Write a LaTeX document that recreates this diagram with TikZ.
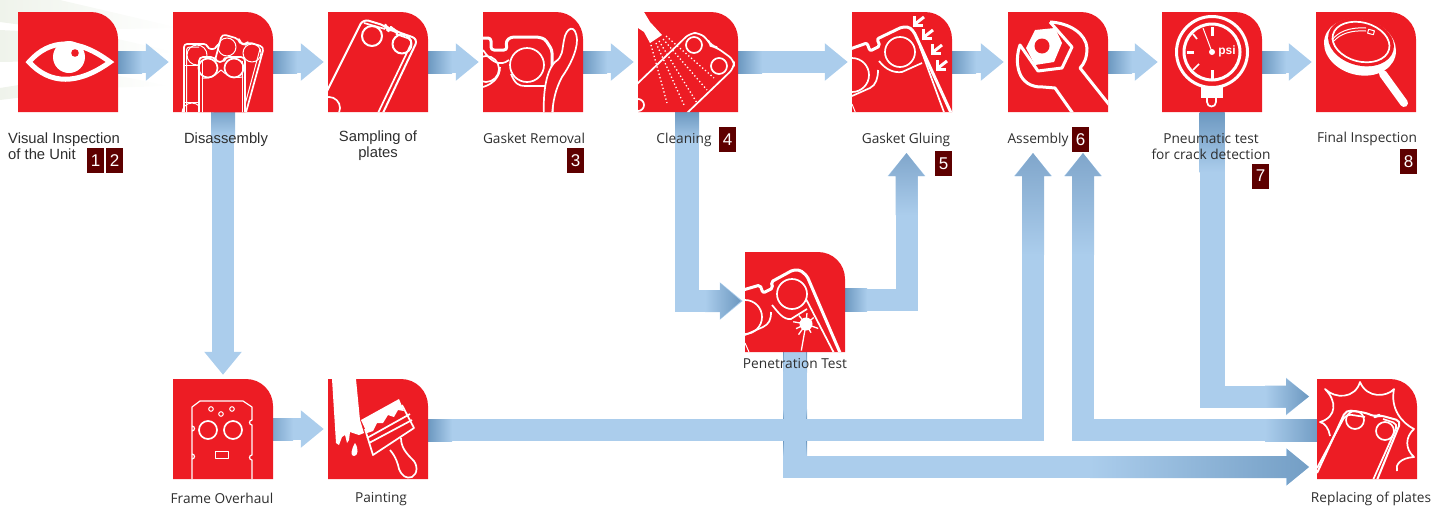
\documentclass[tikz,border=0pt]{standalone}
\usepackage{fontspec}
\setmainfont{Open Sans}
\newfontfamily\helvfont{Liberation Sans}
\usetikzlibrary{arrows.meta, calc}
\definecolor{Ctile}{HTML}{ED1C24}
\definecolor{Cbadge}{HTML}{5E0000}
\definecolor{Fl}{HTML}{ABCDEC}
\definecolor{Fd}{HTML}{6C98C0}
\definecolor{Fm}{HTML}{80A6CB}
\definecolor{Cstk}{HTML}{EFF3EB}
\tikzset{
  tile/.style    = {rectangle, minimum size=100pt, inner sep=0pt},
  tileout/.style = {insert path={(0,0) -- (73,0) .. controls (88,0) and (100,12) .. (100,27)
                     -- (100,100) -- (0,100) -- cycle}},
  lbl/.style     = {font=\fontsize{13.7}{16}\selectfont, text=black!82, inner sep=0pt, align=center},
  lblh/.style    = {lbl, font=\helvfont\fontsize{14.8}{16}\selectfont},
  badge/.style   = {fill=Cbadge, text=white, minimum width=17pt, minimum height=25pt, inner sep=0pt,
                    font=\helvfont\fontsize{17}{17}\selectfont},
  flow/.style    = {line width=22pt, Fl, -{Triangle[length=23pt,width=36pt]}, shorten >=4pt},
  flowup/.style  = {flow, shorten >=0pt},
  stem/.style    = {line width=24pt, Fl},
  ico/.style     = {draw=white, line width=1.7pt, line join=round},
  icoT/.style    = {draw=white, line width=3pt, line join=round},
  icoN/.style    = {draw=white, line width=1pt, line join=round},
  dots/.style    = {draw=white, line width=1.3pt, dash pattern=on 1.3pt off 2.4pt},
}
\begin{document}
\begin{tikzpicture}[x=1pt, y=-1pt]
\useasboundingbox (0,0) rectangle (1445,507);

%%──────────────────────────────────────────────────
%% Pale streaks behind the first tiles
%%──────────────────────────────────────────────────
\shade[left color=Cstk, right color=white] (0,0) -- (60,0) -- (180,28) -- (60,30) -- (0,22) -- cycle;
\shade[left color=Cstk, right color=white] (0,30) -- (100,35) -- (175,52) -- (100,60) -- (0,62) -- cycle;
\shade[left color=Cstk, right color=white] (0,88) -- (100,72) -- (170,86) -- (100,88) -- (0,100) -- cycle;

%%──────────────────────────────────────────────────
%% Tiles
%%──────────────────────────────────────────────────
\node[tile] (eye)   at (68,62)    {};
\node[tile] (parts) at (223,62)   {};
\node[tile] (samp)  at (378,62)   {};
\node[tile] (strip) at (533,62)   {};
\node[tile] (clean) at (688,62)   {};
\node[tile] (glue)  at (902,62)   {};
\node[tile] (asm)   at (1058,62)  {};
\node[tile] (press) at (1212,62)  {};
\node[tile] (final) at (1366,62)  {};
\node[tile] (pen)   at (795,302)  {};
\node[tile] (frame) at (223,429)  {};
\node[tile] (paint) at (378,429)  {};
\node[tile] (rep)   at (1367,429) {};

\coordinate (glueIn) at (906.5,153);
\coordinate (asmInA) at (1033,153);
\coordinate (asmInB) at (1083,153);
\coordinate (repInA) at (1309,396.5);
\coordinate (repInB) at (1309,467);

%%──────────────────────────────────────────────────
%% Connectors
%%──────────────────────────────────────────────────
\draw[flow] (eye.east)   -- (parts.west);
\draw[flow] (parts.east) -- (samp.west);
\draw[flow] (samp.east)  -- (strip.west);
\draw[flow] (strip.east) -- (clean.west);
\draw[flow] (clean.east) -- (glue.west);
\draw[flow] (glue.east)  -- (asm.west);
\draw[flow] (asm.east)   -- (press.west);
\draw[flow] (press.east) -- (final.west);
\draw[flow] (frame.east) -- (paint.west);
\draw[flow] (parts.south) -- (frame.north);

\draw[stem] (pen.south) -- ++(0,126);
\shade[top color=Fd, bottom color=Fl] (783,352) rectangle (807,372);
\shade[top color=Fl, bottom color=Fd] (783,409) rectangle (807,420);
\shade[top color=Fd, bottom color=Fl] (783,441) rectangle (807,456);
\draw[flowup] (pen.south) |- (repInB);

\draw[stem] ([xshift=-1pt]clean.south) -- ++(0,200);
\draw[flowup, shorten >=2pt] ([xshift=-1pt]clean.south) |- ([yshift=1pt]pen.west);
\draw[flowup] ([yshift=2.5pt]pen.east) -| (glueIn);
\draw[flowup] ([yshift=-1pt]paint.east) -| (asmInA);
\draw[flowup] ([yshift=-1pt]rep.west) -| (asmInB);
\draw[stem, line width=25pt] (press.south) -- ++(0,296);
\draw[flowup] (press.south) |- (repInA);

%% gradients at the tile ends
\foreach \xa in {118,273,428,583,738,952,1108,1262}
  \shade[left color=Fd, right color=Fl] (\xa,51) rectangle ++(24,22);
\shade[left color=Fd!70!Fl, right color=Fl] (273,418) rectangle ++(20,22);
\shade[left color=Fd, right color=Fl] (428,419) rectangle ++(24,22);
\shade[left color=Fd, right color=Fl] (845,288) rectangle ++(22,23);
\shade[top color=Fd!80!Fl, bottom color=Fl] (211,112) rectangle ++(24,24);
\shade[top color=Fd, bottom color=Fl] (675,112) rectangle ++(24,30);
\shade[top color=Fd, bottom color=Fl] (1199.5,112) rectangle ++(25,60);
\shade[left color=Fl, right color=Fd!90!Fl] (1265,419) rectangle (1317,441);

%% gradients at the arrow heads
\shade[left color=Fl, right color=Fd] (705,290) -- (720,290) -- (720,283) -- (741,301) -- (720,319) -- (720,312) -- (705,312) -- cycle;
\shade[left color=Fl, right color=Fd] (1265,385.5) -- (1286,385.5) -- (1286,378.5) -- (1309,396.5) -- (1286,414.5) -- (1286,407.5) -- (1265,407.5) -- cycle;
\shade[left color=Fl, right color=Fd!88!Fl] (1090,456) -- (1287,456) -- (1287,449) -- (1309,467) -- (1287,485) -- (1287,478) -- (1090,478) -- cycle;
\shade[bottom color=Fl, top color=Fm] (895.5,215) -- (895.5,176) -- (888.5,176) -- (906.5,153) -- (924.5,176) -- (917.5,176) -- (917.5,215) -- cycle;
\shade[bottom color=Fl, top color=Fm] (1022,255) -- (1022,176) -- (1015,176) -- (1033,153) -- (1051,176) -- (1044,176) -- (1044,255) -- cycle;
\shade[bottom color=Fl, top color=Fm] (1072,255) -- (1072,176) -- (1065,176) -- (1083,153) -- (1101,176) -- (1094,176) -- (1094,255) -- cycle;

%%──────────────────────────────────────────────────
%% Tile 1: eye
%%──────────────────────────────────────────────────
\begin{scope}[shift={(18,12)}]
  \fill[Ctile, tileout];
  \draw[icoT, line width=5pt, miter limit=10, line join=miter] (11,50)
    .. controls (32,26) and (60,26) .. (92,50) .. controls (60,73) and (32,73) .. cycle;
  \fill[white] (51,45) circle (16);
  \fill[Ctile] (57,41) circle (3.8);
\end{scope}

%%──────────────────────────────────────────────────
%% Tile 2: three plates
%%──────────────────────────────────────────────────
\begin{scope}[shift={(173,12)}]
  \fill[Ctile, tileout];
  \clip[tileout];
  \draw[ico, rounded corners=3pt] (11,100) -- (11,32) -- (34,32) -- (35,37) -- (43,37) -- (44,32) -- (55,32);
  \draw[icoN, rounded corners=3pt] (13.5,100) -- (13.5,35) -- (26,35);
  \draw[icoN] (24,43) circle (10);
  \draw[icoN] (19,101) circle (10);
  \draw[icoN] (11,53) -- (26,53) (11,90) -- (26,90);
  \draw[ico, fill=Ctile, rounded corners=4pt] (41,52) -- (49,22) -- (66,27) -- (67,31) -- (72,33) -- (75,30) -- (91,35) -- (72,104) -- (40,104) -- cycle;
  \draw[icoN] (87,37) -- (70,100);
  \draw[icoN] (54,35) circle (9);
  \draw[icoN] (79,41) circle (9);
  \draw[ico, fill=Ctile, rounded corners=4pt] (26,104) -- (26,45) -- (42,45) -- (43,50) -- (51,50) -- (52,45) -- (72,45) -- (72,104);
  \draw[ico] (35,56) circle (9.5);
  \draw[ico] (61,56) circle (9.5);
  \draw[icoN] (29,66) .. controls (40,67) and (43,62) .. (48,58) .. controls (53,62) and (56,67) .. (70,65);
  \draw[icoN] (29,49) -- (29,104) (69.5,49) -- (69.5,104);
\end{scope}

%%──────────────────────────────────────────────────
%% Tile 3: one plate
%%──────────────────────────────────────────────────
\begin{scope}[shift={(328,12)}]
  \fill[Ctile, tileout];
  \clip[tileout];
  \draw[ico, line width=2pt, rounded corners=6pt] (-3,83) -- (35,7) -- (58,14) -- (60,18) -- (65,17) -- (67,19) -- (90,27) -- (54,103);
  \draw[ico, rounded corners=5pt] (36,11) -- (57,17) (68,22) -- (85,28) -- (50,101);
  \draw[ico, line width=2pt] (44,24) circle (10);
  \draw[ico, line width=2pt] (74,32) circle (9.5);
  \draw[ico] (1,96) circle (11);
\end{scope}

%%──────────────────────────────────────────────────
%% Tile 4: gasket coming off
%%──────────────────────────────────────────────────
\begin{scope}[shift={(483,12)}]
  \fill[Ctile, tileout];
  \clip[tileout];
  \draw[icoT, rounded corners=3pt] (-2,26) -- (8,26) -- (8,38) -- (24,38) -- (23,29) -- (28,25) -- (55,25) -- (62,27) -- (69,38) -- (69,104);
  \draw[ico] (44,53) circle (17);
  \draw[ico] (3,57) circle (13);
  \draw[ico] (0,38) .. controls (8,50) and (17,55) .. (26,48);
  \draw[ico] (0,75) .. controls (10,72) and (17,65) .. (17,55);
  \draw[ico] (28,62) .. controls (32,72) and (36,74) .. (42,74) -- (62,74) -- (70,66);
  \draw[ico, fill=Ctile] (61,103) .. controls (60,85) and (62,60) .. (72,50) .. controls (80,45) and (79,38) .. (81,28) .. controls (83,15) and (93,11) .. (94,28) .. controls (94,40) and (86,55) .. (79,65) .. controls (72,78) and (70,90) .. (69,103);
\end{scope}

%%──────────────────────────────────────────────────
%% Tile 5: spray on a plate
%%──────────────────────────────────────────────────
\begin{scope}[shift={(638,12)}]
  \fill[Ctile, tileout];
  \clip[tileout];
  \fill[white] (6,0) -- (12,10) -- (24,23) -- (12,31) -- (6,20) -- (0,16) -- (0,0) -- cycle;
  \draw[ico, rounded corners=6pt] (-2,73) -- (52,21) -- (62,21) -- (70,28) -- (73,34) -- (78,35) -- (96,48) -- (96,56) -- (48,102);
  \draw[ico] (56,33) circle (8);
  \draw[ico] (81,54) circle (8);
  \draw[ico] (0,93) circle (6);
  \draw[dots] (13,33) -- (29,91);
  \draw[dots] (18,31) -- (46,93);
  \draw[dots] (21,29) -- (59,91);
  \draw[dots] (25,27) -- (69,78);
  \draw[dots] (28,24) -- (76,66);
\end{scope}

%%──────────────────────────────────────────────────
%% Tile 6: gluing, small arrows
%%──────────────────────────────────────────────────
\begin{scope}[shift={(852,12)}]
  \fill[Ctile, tileout];
  \clip[tileout];
  \draw[icoT, rounded corners=2pt] (-2,37) -- (15,31) -- (18,39) -- (28,34) -- (25,27) -- (50,15) -- (57,15) -- (62,20) -- (100,103);
  \draw[ico] (68,35) -- (93,103);
  \draw[ico] (48,40) circle (15);
  \draw[ico] (0,63) circle (17);
  \draw[ico] (27,49) .. controls (34,58) and (42,61) .. (50,60) -- (70,51);
  \draw[ico] (0,84) -- (18,76) .. controls (24,73) and (26,66) .. (26,58);
  \draw[icoN] (0,92) -- (4,102);
  \foreach \xa/\ya in {63/12, 72/25, 81/40, 86/56}{
    \draw[icoT, line join=miter] (\xa+9,\ya-7) -- (\xa,\ya);
    \draw[icoT, line join=miter] (\xa-1,\ya-8) -- (\xa-1,\ya+1) -- (\xa+8,\ya+1);
  }
\end{scope}

%%──────────────────────────────────────────────────
%% Tile 7: spanner and nut
%%──────────────────────────────────────────────────
\begin{scope}[shift={(1008,12)}]
  \fill[Ctile, tileout];
  \clip[tileout];
  \draw[icoT] (42,10) .. controls (62,11) and (78,22) .. (79,36) .. controls (79,46) and (76,52) .. (72,56) -- (103,95);
  \draw[icoT] (42,10) -- (64,35) -- (54,56) -- (30,59) -- (12,33) .. controls (6,50) and (9,76) .. (35,75) -- (47,76) -- (66,103);
  \fill[white] (18,36) -- (27,18) -- (47,16) -- (54,31) -- (46,50) -- (27,53) -- cycle;
  \fill[Ctile] (34,34) circle (7.5);
\end{scope}

%%──────────────────────────────────────────────────
%% Tile 8: gauge
%%──────────────────────────────────────────────────
\begin{scope}[shift={(1162,12)}]
  \fill[Ctile, tileout];
  \clip[tileout];
  \draw[icoT] (50,40) circle (35.5);
  \draw[icoT] (50,40) circle (28);
  \fill[white] (39,75) -- (61,75) -- (61,86) -- (39,86) -- cycle;
  \draw[ico] (45,86) -- (45,90) .. controls (45,96) and (54,96) .. (54,90) -- (54,86);
  \draw[icoT] (50,15) -- (50,24) (50,58) -- (50,67) (25,40) -- (32,40);
  \draw[ico] (31,22) -- (35,27) (31,58) -- (37,52);
  \draw[icoN] (50,40) -- (41,16);
  \fill[white] (50,40) circle (3);
  \node[inner sep=0pt, text=white, font=\helvfont\bfseries\fontsize{12}{12}\selectfont] (psi) at (65,39) {psi};
\end{scope}

%%──────────────────────────────────────────────────
%% Tile 9: magnifying glass
%%──────────────────────────────────────────────────
\begin{scope}[shift={(1316,12)}]
  \fill[Ctile, tileout];
  \clip[tileout];
  \draw[white, line width=8pt, line cap=round] (67,62) -- (88,91);
  \fill[white, rotate around={-15:(44,35)}] (44,35) ellipse (36.5 and 28);
  \fill[Ctile, rotate around={-15:(45,30)}] (45,30) ellipse (33.5 and 23.5);
  \draw[ico, rotate around={-15:(45,30)}] (45,30) ellipse (29 and 19.5);
  \draw[icoN] (16,28) .. controls (22,20) and (33,15) .. (50,16);
  \draw[icoN] (18,29) .. controls (24,22) and (35,18) .. (50,19);
  \draw[icoN, rotate around={-15:(55,20)}] (52,18) rectangle (58,22);
\end{scope}

%%──────────────────────────────────────────────────
%% Tile 10: plate with a flash
%%──────────────────────────────────────────────────
\begin{scope}[shift={(745,252)}]
  \fill[Ctile, tileout];
  \clip[tileout];
  \draw[icoT, rounded corners=2pt] (-2,38) -- (15,33) -- (18,41) -- (28,36) -- (26,30) -- (48,18) -- (55,18) -- (62,24) -- (96,103);
  \draw[ico] (61,47) -- (90,103);
  \draw[ico] (47,42) circle (15);
  \draw[ico] (0,65) circle (17);
  \draw[ico] (27,53) .. controls (33,60) and (38,68) .. (46,67) -- (62,57);
  \draw[ico] (0,83) -- (18,75) .. controls (24,72) and (26,68) .. (26,60);
  \draw[icoN] (0,91) -- (4,100);
  \fill[white] (61,72) circle (6.5);
  \foreach \ang/\len in {20/13, 60/10, 100/27, 125/13, 155/11, 190/13, 230/11, 275/11, 320/10}
    \draw[white, line width=1.3pt] (61,72) -- ++(\ang:\len);
\end{scope}

%%──────────────────────────────────────────────────
%% Tile 11: frame
%%──────────────────────────────────────────────────
\begin{scope}[shift={(173,379)}]
  \fill[Ctile, tileout];
  \clip[tileout];
  \draw[ico, line width=1.2pt] (19,101) -- (19,47) arc[start angle=-90, end angle=90, radius=2.5] -- (19,28) -- (27,22) -- (70,22) -- (79,28) -- (79,41) arc[start angle=270, end angle=90, radius=2.5] -- (79,76) arc[start angle=270, end angle=90, radius=2.5] -- (79,101);
  \draw[ico, line width=1.2pt] (19,75) arc[start angle=-90, end angle=90, radius=2.5];
  \draw[ico] (35,51) circle (9);
  \draw[ico] (60,51) circle (9);
  \draw[icoN] (38,30) circle (2.3);
  \draw[icoN] (48,35) circle (2.3);
  \draw[icoN] (59,30) circle (2.3);
  \draw[icoN] (42,72) rectangle (55,79);
\end{scope}

%%──────────────────────────────────────────────────
%% Tile 12: brush
%%──────────────────────────────────────────────────
\begin{scope}[shift={(328,379)}]
  \fill[Ctile, tileout];
  \clip[tileout];
  \fill[white] (4,0) -- (28,0) -- (32,41) -- (36,54) -- (31,56) -- (22,53) -- (21,61) -- (19,64) -- (17,56) -- (14,58) -- (11,66) -- (8,64) -- cycle;
  \fill[white] (27,64) .. controls (31,70) and (30,77) .. (26,77) .. controls (22,77) and (23,71) .. (27,64) -- cycle;
  \fill[white] (33,41) -- (71,20) -- (76,32) -- (70,31) -- (66,38) -- (60,36) -- (55,44) -- (49,44) -- (45,52) -- (39,54) -- cycle;
  \draw[ico] (37,50) -- (45,76) -- (86,49) -- (74,26);
  \draw[ico] (39,59) -- (82,35);
  \draw[ico] (41,64) -- (84,41);
  \draw[ico] (62,71) .. controls (68,78) and (70,85) .. (71,90) .. controls (74,97) and (78,100) .. (84,98) .. controls (90,95) and (90,85) .. (84,80) .. controls (78,74) and (73,68) .. (73,59);
\end{scope}

%%──────────────────────────────────────────────────
%% Tile 13: plate in a burst
%%──────────────────────────────────────────────────
\begin{scope}[shift={(1317,379)}]
  \fill[Ctile, tileout];
  \clip[tileout];
  \draw[ico] (80,92) .. controls (78,86) and (83,79) .. (97,78) .. controls (88,70) and (88,58) .. (97,50) .. controls (85,44) and (73,30) .. (77,10) .. controls (70,18) and (50,20) .. (43,3) .. controls (38,20) and (18,20) .. (8,10) .. controls (20,22) and (20,38) .. (3,43) .. controls (8,44) and (12,50) .. (13,57);
  \draw[ico, line width=2pt, rounded corners=5pt] (0,94) -- (29,31) -- (50,34) -- (58,38) -- (62,36) -- (84,42) -- (60,101);
  \draw[ico, rounded corners=5pt] (0,89) -- (29,35) -- (48,38) (66,40) -- (81,45) -- (56,101);
  \draw[ico] (38,41) circle (9);
  \draw[ico] (68,52) circle (9);
\end{scope}

%%──────────────────────────────────────────────────
%% Labels
%%──────────────────────────────────────────────────
\node[lblh, align=left, anchor=west] (tEye) at (8,146.5) {Visual Inspection\\of the Unit};
\node[lblh] (tParts) at (226,140)  {Disassembly};
\node[lblh] (tSamp)  at (378,146)  {Sampling of\\plates};
\node[lbl] (tStrip) at (534,138)  {Gasket Removal};
\node[lbl] (tClean) at (684,140)  {Cleaning};
\node[lbl] (tGlue)  at (906,140)  {Gasket Gluing};
\node[lbl] (tAsm)   at (1038,140) {Assembly};
\node[lbl] (tPress) at (1211,147) {Pneumatic test\\for crack detection};
\node[lbl] (tFinal) at (1367,139) {Final Inspection};
\node[lbl] (tPen)   at (795,364)  {Penetration Test};
\node[lbl] (tFrame) at (222,498)  {Frame Overhaul};
\node[lbl] (tPaint) at (381,499)  {Painting};
\node[lbl] (tRep)   at (1371,499) {Replacing of plates};

\node[badge] (bOne)   at (95.5,160.5)  {1};
\node[badge] (bTwo)   at (114.5,160.5) {2};
\node[badge] (bThree) at (575.5,160.5) {3};
\node[badge] (bFour)  at (727.5,139.5) {4};
\node[badge] (bFive)  at (943.5,163.5) {5};
\node[badge] (bSix)   at (1080.5,139.5) {6};
\node[badge] (bSeven) at (1260.5,176)  {7};
\node[badge] (bEight) at (1408.5,161.5) {8};

\end{tikzpicture}
\end{document}
